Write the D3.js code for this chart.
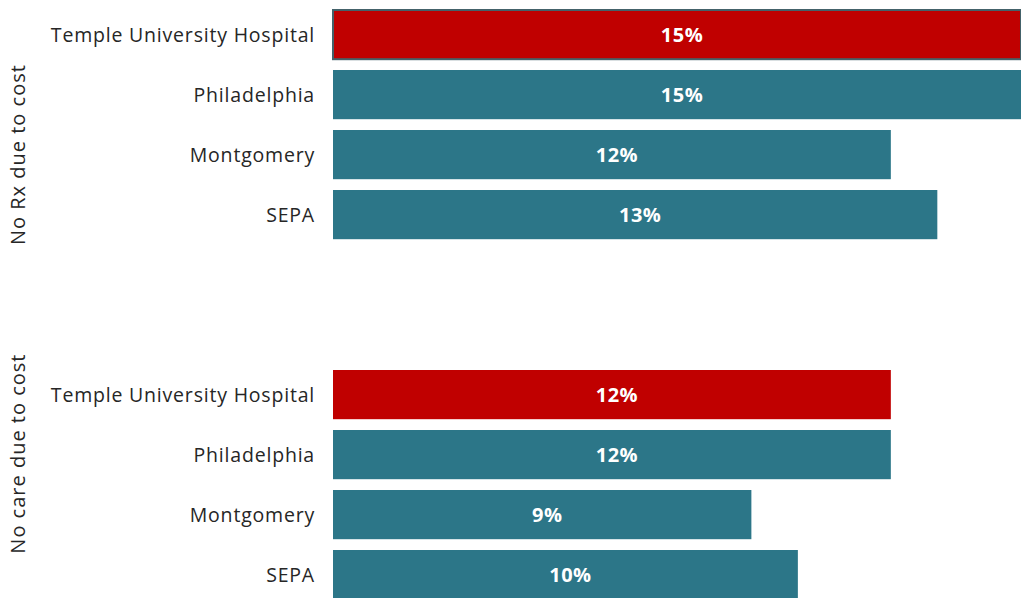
<!DOCTYPE html>
<meta charset="utf-8">
<style>
body{margin:0;background:#fff;font-family:"Century Gothic","Open Sans","Noto Sans",sans-serif;}
</style>
<body>
<div id="container"></div>
<script src="https://d3js.org/d3.v7.min.js"></script>
<script>

var width = 1021,
    height = 598;

// data
var groups = ["No Rx due to cost", "No care due to cost"];
var places = ["Temple University Hospital", "Philadelphia", "Montgomery", "SEPA"];
var noRx   = [0.148, 0.148, 0.120, 0.130];
var noCare = [0.120, 0.120, 0.090, 0.100];
var values = [noRx, noCare];

var red = "#c00000",
    teal = "#2c7688";

var svg = d3.select("#container").append("svg")
    .attr("width", width)
    .attr("height", height);

var x = d3.scaleLinear()
    .domain([0, d3.max(values, function(v) { return d3.max(v); })])
    .range([333, 1021]);

var yGroup = d3.scaleBand()
    .domain(groups)
    .range([0, 720]);

var y = d3.scaleBand()
    .domain(places)
    .range([0, 240])
    .paddingInner(0.18)
    .paddingOuter(0.09);

var fmt = d3.format(".0%");
var labelShift = [150, 89];

groups.forEach(function(g, gi) {
  var top = yGroup(g) + 4.6;
  var grp = svg.append("g").attr("transform", "translate(0," + top + ")");
  var rows = places.map(function(p, i) { return {place: p, value: values[gi][i], i: i}; });

  grp.selectAll("rect").data(rows).enter().append("rect")
      .attr("x", x(0))
      .attr("y", function(d) { return y(d.place); })
      .attr("width", function(d) { return x(d.value) - x(0); })
      .attr("height", y.bandwidth())
      .style("fill", function(d) { return d.i == 0 ? red : teal; })
      .style("stroke", function(d) { return (d.i == 0 && gi == 0) ? "#44626a" : "none"; })
      .style("stroke-width", 2);

  grp.selectAll("text.val").data(rows).enter().append("text")
      .attr("class", "val")
      .attr("x", function(d) { return (x(0) + x(d.value)) / 2 + 5; })
      .attr("y", function(d) { return y(d.place) + y.bandwidth() / 2; })
      .attr("dy", "0.36em")
      .attr("text-anchor", "middle")
      .style("fill", "#fff")
      .style("font-weight", "bold")
      .style("font-size", "20px")
      .style("letter-spacing", "0.5px")
      .text(function(d) { return fmt(d.value); });

  grp.selectAll("text.cat").data(rows).enter().append("text")
      .attr("class", "cat")
      .attr("x", 315)
      .attr("y", function(d) { return y(d.place) + y.bandwidth() / 2; })
      .attr("dy", "0.36em")
      .attr("text-anchor", "end")
      .style("fill", "#262626")
      .style("font-size", "19.5px")
      .style("letter-spacing", "0.8px")
      .text(function(d) { return d.place; });

  grp.append("text")
      .attr("transform", "translate(18," + labelShift[gi] + ") rotate(-90)")
      .attr("dy", "0.36em")
      .attr("text-anchor", "middle")
      .style("fill", "#262626")
      .style("font-size", "20px")
      .style("letter-spacing", "1px")
      .text(g);
});

</script>
</body>
</html>
